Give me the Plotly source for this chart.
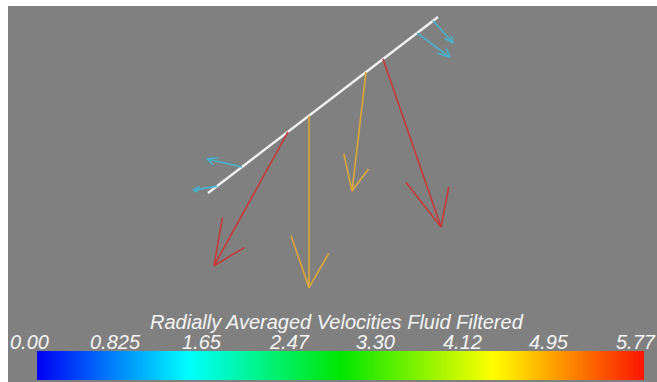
import numpy as np
import plotly.graph_objects as go

# ---- data (image-space units, y grows downward) ----
line_start = (208, 193)
line_end = (438, 17)

base_x = [433, 417, 242, 217, 288, 309, 366, 383]
vec_u = [20, 33, -35, -24, -74, 0, -14, 58]
vec_v = [22, 24, -8, 4, 134, 172, 119, 168]
arrow_kind = ["low", "low", "low", "low", "high", "mid", "mid", "high"]

cbar_min, cbar_max = 0.0, 5.77
tick_labels = ["0.00", "0.825", "1.65", "2.47", "3.30", "4.12", "4.95", "5.77"]
cbar_title = "Radially Averaged Velocities Fluid Filtered"

# ---- styles ----
kind_color = {"low": "rgb(70,178,205)", "mid": "rgb(222,168,58)", "high": "rgb(198,56,56)"}
colorscale = [[0.0, "rgb(0,0,245)"], [0.25, "rgb(0,255,255)"], [0.5, "rgb(0,230,0)"],
              [0.75, "rgb(255,255,0)"], [1.0, "rgb(250,20,0)"]]
wing_a = (-19.0, 0.32)
wing_b = (30.0, 0.23)

fig = go.Figure()

# base line
fig.add_trace(go.Scatter(x=[line_start[0], line_end[0]], y=[line_start[1], line_end[1]],
                         mode="lines", line=dict(color="rgb(240,240,240)", width=2.5),
                         hoverinfo="skip", showlegend=False))

slope = (line_end[1] - line_start[1]) / (line_end[0] - line_start[0])


def rot(vx, vy, deg):
    t = np.radians(deg)
    return vx * np.cos(t) - vy * np.sin(t), vx * np.sin(t) + vy * np.cos(t)


for bx, u, v, k in zip(base_x, vec_u, vec_v, arrow_kind):
    by = line_start[1] + slope * (bx - line_start[0])
    tx, ty = bx + u, by + v
    L = np.hypot(u, v)
    backx, backy = -u / L, -v / L
    ax_, ay_ = rot(backx, backy, wing_a[0])
    bx_, by_ = rot(backx, backy, wing_b[0])
    xs = [bx, tx, None, tx + ax_ * wing_a[1] * L, tx, tx + bx_ * wing_b[1] * L]
    ys = [by, ty, None, ty + ay_ * wing_a[1] * L, ty, ty + by_ * wing_b[1] * L]
    fig.add_trace(go.Scatter(x=xs, y=ys, mode="lines",
                             line=dict(color=kind_color[k], width=1.6),
                             hoverinfo="skip", showlegend=False))

# colour bar as heatmap
zvals = np.linspace(cbar_min, cbar_max, 400)
fig.add_trace(go.Heatmap(x=zvals, y=[0, 1], z=[zvals, zvals], colorscale=colorscale,
                         zmin=cbar_min, zmax=cbar_max, zsmooth="best", showscale=False,
                         hoverinfo="skip", xaxis="x2", yaxis="y2"))

W, H = 657, 382
ml, mt = 8, 6
pw, ph = W - ml, H - mt

font = dict(family="Liberation Sans, Arial, sans-serif", color="rgb(245,245,245)")

annotations = []
n = len(tick_labels)
lab_left, lab_right = 29, 636
for i, t in enumerate(tick_labels):
    annotations.append(dict(x=lab_left + i * (lab_right - lab_left) / (n - 1), y=342,
                            xref="x", yref="y", text="<i>" + t + "</i>", showarrow=False,
                            font=dict(size=20, **font), xanchor="center", yanchor="middle"))
annotations.append(dict(x=337, y=322, xref="x", yref="y", text="<i>" + cbar_title + "</i>",
                        showarrow=False, font=dict(size=20, **font),
                        xanchor="center", yanchor="middle"))

fig.update_layout(
    width=W, height=H,
    margin=dict(l=ml, r=0, t=mt, b=0),
    paper_bgcolor="white",
    plot_bgcolor="rgb(128,128,128)",
    xaxis=dict(range=[ml, W], visible=False, domain=[0, 1]),
    yaxis=dict(range=[H, mt], visible=False, domain=[0, 1]),
    xaxis2=dict(range=[cbar_min, cbar_max], visible=False, anchor="y2",
                domain=[(37 - ml) / pw, (644 - ml) / pw]),
    yaxis2=dict(range=[0, 1], visible=False, anchor="x2",
                domain=[(H - 380) / ph, (H - 351) / ph]),
    annotations=annotations,
)

fig.write_html("out.html")
